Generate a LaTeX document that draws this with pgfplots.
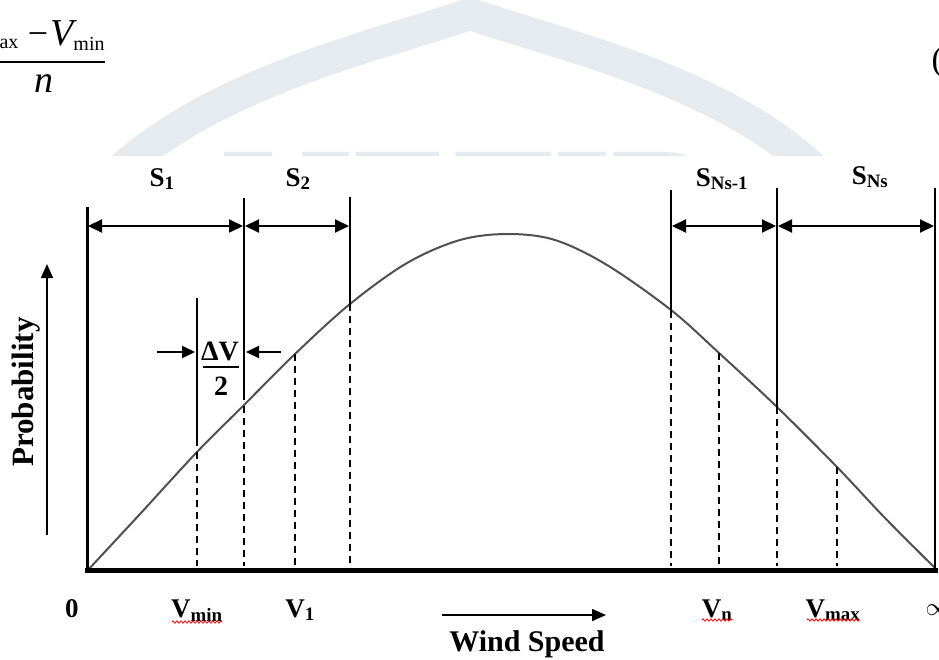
\documentclass[border=0pt]{standalone}
\usepackage{pgfplots}
\pgfplotsset{compat=1.18}
\usepackage{fontspec}
\setmainfont{Liberation Serif}
\usetikzlibrary{arrows.meta,decorations.pathmorphing}
\definecolor{wm}{RGB}{229,235,239}
\definecolor{curvec}{RGB}{80,80,80}
\newcommand\lab{\fontsize{27}{30}\selectfont\bfseries}
\begin{document}
\begin{tikzpicture}
\useasboundingbox (0,0) rectangle (939pt,659pt);
\begin{axis}[at={(0,0)},anchor=south west,scale only axis,width=939pt,height=659pt,
  xmin=0,xmax=939,ymin=0,ymax=659,y dir=reverse,hide axis,clip=false]
% watermark
\draw[wm,line width=32pt] (120,170) .. controls (220,80) and (380,45) .. (470,14) .. controls (560,45) and (720,80) .. (815,170);
\node[wm,anchor=base,font=\fontsize{150}{150}\selectfont\bfseries] at (470,250) {IJETIR};
\fill[white] (-10,156) rectangle (950,670);
% equation fragment
\draw[line width=1.6pt] (-60,62) -- (105,62);
\node[anchor=base east,font=\fontsize{20}{22}\selectfont] at (22,48) {max};
\node[anchor=base,font=\fontsize{36}{38}\selectfont] at (38,45) {−};
\node[anchor=base,font=\fontsize{38}{40}\selectfont\itshape] at (62,45) {V};
\node[anchor=base,font=\fontsize{20}{22}\selectfont] at (89,50) {min};
\node[anchor=base,font=\fontsize{38}{40}\selectfont\itshape] at (44,92) {n};
\node[anchor=west,font=\fontsize{34}{36}\selectfont] at (928,62) {(};
% curve
\addplot[curvec,line width=2pt,smooth,tension=0.55] coordinates {
(88,570) (140,514) (197,452) (243,406) (295,354) (350,304) (407,263) (460,240)
(508,234) (555,240) (607,265) (671,310) (719,353) (777,407) (837,467) (885,518) (935,568)};
% dashed verticals
\foreach \xx/\yy in {197/452,244/406,295/354,350/304,671/311,719/353,777/407,837/467}{
  \edef\tmp{\noexpand\draw[black,line width=1.6pt,dash pattern=on 7pt off 5pt] (\xx,\yy) -- (\xx,566);}\tmp
}
% solid verticals
\draw[black,line width=1.6pt] (244,198) -- (244,400);
\draw[black,line width=1.6pt] (350,197) -- (350,304);
\draw[black,line width=1.6pt] (197,298) -- (197,446);
\draw[black,line width=1.6pt] (671,190) -- (671,311);
\draw[black,line width=1.6pt] (777,188) -- (777,407);
\draw[black,line width=1.6pt] (935,188) -- (935,570);
% axes
\draw[black,line width=3pt] (87,207) -- (87,572);
\draw[black,line width=5pt] (85,570) -- (938,570);
% interval arrows
\draw[black,line width=2pt,{Triangle[length=14pt,width=13pt]}-{Triangle[length=14pt,width=13pt]}] (88,226) -- (243,226);
\draw[black,line width=2pt,{Triangle[length=14pt,width=13pt]}-{Triangle[length=14pt,width=13pt]}] (245,226) -- (349,226);
\draw[black,line width=2pt,{Triangle[length=14pt,width=13pt]}-{Triangle[length=14pt,width=13pt]}] (672,226) -- (776,226);
\draw[black,line width=2pt,{Triangle[length=14pt,width=13pt]}-{Triangle[length=14pt,width=13pt]}] (778,226) -- (934,226);
% interval labels
\node[anchor=base,font=\lab] at (162,186) {S\textsubscript{1}};
\node[anchor=base,font=\lab] at (298,186) {S\textsubscript{2}};
\node[anchor=base,font=\lab] at (722,186) {S\textsubscript{Ns-1}};
\node[anchor=base,font=\lab] at (870,184) {S\textsubscript{Ns}};
% Delta V / 2
\draw[black,line width=2pt,-{Triangle[length=13pt,width=12pt]}] (157,352) -- (195,352);
\draw[black,line width=2pt,-{Triangle[length=13pt,width=12pt]}] (281,352) -- (246,352);
\node[anchor=base,font=\fontsize{28}{30}\selectfont\bfseries] at (220,360) {ΔV};
\draw[black,line width=2.6pt] (203,367) -- (239,367);
\node[anchor=base,font=\fontsize{28}{30}\selectfont\bfseries] at (221,395) {2};
% probability label and arrow
\draw[black,line width=1.6pt,-{Triangle[length=14pt,width=12pt]}] (47,535) -- (47,264);
\node[rotate=90,font=\fontsize{31}{33}\selectfont\bfseries] at (26,392) {Probability};
% bottom labels
\node[anchor=base,font=\lab] at (72,617) {0};
\node[anchor=base,font=\lab] at (197,617) {V\textsubscript{min}};
\node[anchor=base,font=\lab] at (300,617) {V\textsubscript{1}};
\node[anchor=base,font=\lab] at (717,617) {V\textsubscript{n}};
\node[anchor=base,font=\lab] at (833,617) {V\textsubscript{max}};
\node[anchor=west,font=\fontsize{26}{28}\selectfont] at (922,610) {$\infty$};
\draw[red,line width=0.8pt,decorate,decoration={zigzag,segment length=4pt,amplitude=1.2pt}] (172,622) -- (222,622);
\draw[red,line width=0.8pt,decorate,decoration={zigzag,segment length=4pt,amplitude=1.2pt}] (702,620) -- (733,620);
\draw[red,line width=0.8pt,decorate,decoration={zigzag,segment length=4pt,amplitude=1.2pt}] (807,620) -- (860,620);
% wind speed
\draw[black,line width=1.6pt,-{Triangle[length=14pt,width=12pt]}] (442,615) -- (606,615);
\node[anchor=base,font=\fontsize{30}{32}\selectfont\bfseries] at (527,651) {Wind Speed};
\end{axis}
\end{tikzpicture}
\end{document}
